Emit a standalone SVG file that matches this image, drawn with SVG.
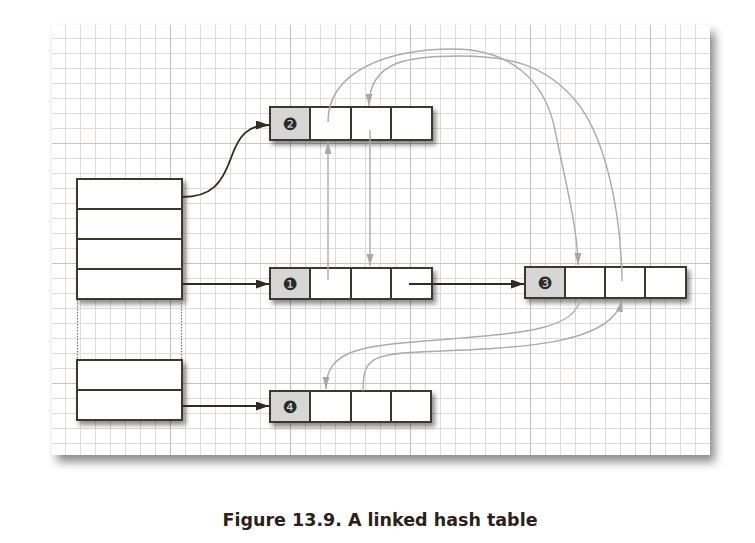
<svg xmlns="http://www.w3.org/2000/svg" width="755" height="543" viewBox="0 0 755 543">
<style>
.box{fill:#fff;stroke:#3d3732;stroke-width:2}
.key{fill:#d6d6d6;stroke:#3d3732;stroke-width:2}
.div{stroke:#3d3732;stroke-width:2}
.num{font-family:"DejaVu Sans",sans-serif;font-size:17px;fill:#2a2a2a;text-anchor:middle}
.dark{fill:none;stroke:#2f2a26;stroke-width:1.8}
.gray{fill:none;stroke:#ababab;stroke-width:1.4}
.cap{font-family:"DejaVu Sans",sans-serif;font-weight:bold;font-size:17.5px;fill:#2b2118;text-anchor:middle}
</style>
<defs>
<pattern id="grid" patternUnits="userSpaceOnUse" x="43" y="16" width="120" height="120">
<path d="M22.5,0V120M37.5,0V120M52.5,0V120M67.5,0V120M82.5,0V120M97.5,0V120M112.5,0V120M0,22.5H120M0,37.5H120M0,52.5H120M0,67.5H120M0,82.5H120M0,97.5H120M0,112.5H120" stroke="#dedbd8" stroke-width="1"/>
<path d="M7.5,0V120M0,7.5H120" stroke="#c6c3c0" stroke-width="1.2"/>
</pattern>
<filter id="pshadow" x="-5%" y="-5%" width="115%" height="115%">
<feDropShadow dx="5" dy="7" stdDeviation="5" flood-color="#000" flood-opacity="0.45"/>
</filter>
<filter id="bshadow" x="-10%" y="-30%" width="130%" height="180%">
<feDropShadow dx="3" dy="4" stdDeviation="2.5" flood-color="#000" flood-opacity="0.45"/>
</filter>
<marker id="ad" markerUnits="userSpaceOnUse" markerWidth="14" markerHeight="10" refX="13" refY="4.5" orient="auto">
<path d="M0,0L13,4.5L0,9z" fill="#2f2a26"/>
</marker>
<marker id="ag" markerUnits="userSpaceOnUse" markerWidth="13" markerHeight="8" refX="12" refY="3.5" orient="auto">
<path d="M0,0L12,3.5L0,7z" fill="#a8a8a8"/>
</marker>
</defs>

<g id="panel">
<rect x="52" y="25" width="658" height="430" fill="#fff" filter="url(#pshadow)"/>
<rect x="52" y="25" width="658" height="430" fill="url(#grid)"/>
</g>

<g id="table">
<rect class="box" x="77" y="179" width="105" height="120" filter="url(#bshadow)"/>
<path class="div" d="M77,209H182M77,239H182M77,269H182"/>
<path d="M77.5,300V360M181.5,300V360" stroke="#777" stroke-width="1.2" stroke-dasharray="1.5,1.5"/>
<rect class="box" x="77" y="360" width="105" height="60" filter="url(#bshadow)"/>
<path class="div" d="M77,390H182"/>
</g>

<g id="entry2">
<g filter="url(#bshadow)"><rect class="box" x="270" y="107" width="162" height="33"/></g>
<rect class="key" x="270" y="107" width="40" height="33"/>
<path class="div" d="M351,107V140M391,107V140"/>
<text class="num" x="290" y="130">❷</text>
</g>

<g id="entry1">
<g filter="url(#bshadow)"><rect class="box" x="270" y="268" width="162" height="31"/></g>
<rect class="key" x="270" y="268" width="40" height="31"/>
<path class="div" d="M351,268V299M391,268V299"/>
<text class="num" x="290" y="290">❶</text>
</g>

<g id="entry3">
<g filter="url(#bshadow)"><rect class="box" x="525" y="267" width="161" height="31"/></g>
<rect class="key" x="525" y="267" width="40" height="31"/>
<path class="div" d="M605,267V298M645,267V298"/>
<text class="num" x="545" y="289">❸</text>
</g>

<g id="entry4">
<g filter="url(#bshadow)"><rect class="box" x="270" y="391" width="161" height="31"/></g>
<rect class="key" x="270" y="391" width="40" height="31"/>
<path class="div" d="M351,391V422M391,391V422"/>
<text class="num" x="290" y="413">❹</text>
</g>

<g id="connectors">
<path class="dark" d="M182,197C212,197 222,183 231,158C239,135 248,125 269,125" marker-end="url(#ad)"/>
<path class="dark" d="M182,284H269" marker-end="url(#ad)"/>
<path class="dark" d="M409,284H524" marker-end="url(#ad)"/>
<path class="dark" d="M182,406H269" marker-end="url(#ad)"/>

<path class="gray" d="M328,280V142" marker-end="url(#ag)"/>
<path class="gray" d="M370,130V266" marker-end="url(#ag)"/>
<path class="gray" d="M328,122C328,70 390,49 453,49C510,49 545,80 555,130C565,180 578,230 578,265" marker-end="url(#ag)"/>
<path class="gray" d="M622,281C621,210 605,135 575,100C545,65 510,56 460,56C410,56 369,60 369,106" marker-end="url(#ag)"/>
<path class="gray" d="M580,299C575,330 520,333 450,339C370,346 326,345 326,389" marker-end="url(#ag)"/>
<path class="gray" d="M363,391C363,360 370,354 420,352C520,348 612,345 622,300" marker-end="url(#ag)"/>
</g>

<text class="cap" x="380" y="526">Figure 13.9. A linked hash table</text>
</svg>
